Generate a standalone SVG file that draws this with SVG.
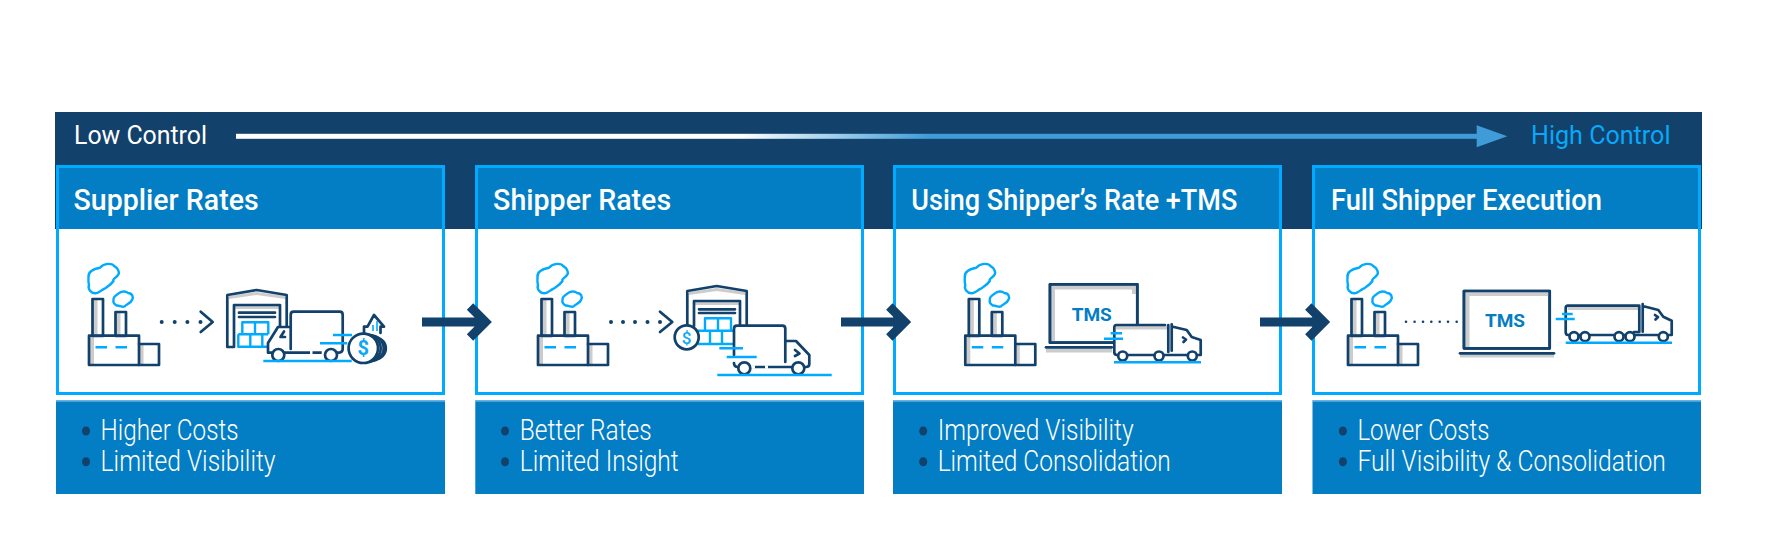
<svg xmlns="http://www.w3.org/2000/svg" xmlns:xlink="http://www.w3.org/1999/xlink" width="1783" height="539" viewBox="0 0 1783 539">
<style>
text{font-family:Roboto,"Liberation Sans",sans-serif}
.top{font-size:26px;fill:#fff}
.hi{fill:#0aa8f8}
.hd{font-size:30px;font-weight:500;fill:#fff}
.bl{font-size:29px;font-weight:300;fill:#fff}
.tms{font-size:19px;font-weight:700;fill:#037dc4;text-anchor:middle}
.dollar{font-size:20px;font-weight:700;fill:#0aa8f8;text-anchor:middle}
.panel{fill:#fff;stroke:#00aaff;stroke-width:3}
.head{fill:#037dc4}
.box{fill:#037dc4;stroke:none}
.boxtop{stroke:#5db2e3;stroke-width:1.5}
.dot{fill:#12416b}
.n{fill:none;stroke:#12416b;stroke-width:2.7;stroke-linejoin:round;stroke-linecap:round}
.nw{fill:#fff;stroke:#12416b;stroke-width:2.7;stroke-linejoin:round;stroke-linecap:round}
.c{fill:none;stroke:#00aaff;stroke-width:2.4;stroke-linejoin:round}
.g{fill:#ccc;stroke:none}
.arrow{fill:none;stroke:#12416b;stroke-width:9}
</style>
<defs>
<linearGradient id="fade" gradientUnits="userSpaceOnUse" x1="740" y1="0" x2="930" y2="0">
<stop offset="0" stop-color="#fff"/><stop offset="1" stop-color="#3f9cd8"/>
</linearGradient>
<g id="factory">
<path class="c" d="M88.5 277C88 272 93 269 100 267.7C104 263 112 262.5 115 266.7C118 268 120 273 118 275C116 278 112 279 113.5 281C111 285 107 287 105 288.3C101 290 99 293.5 95.5 293.3C91 293.5 87.5 289 89 285C88 282 88.5 279 88.5 277Z"/>
<path class="c" d="M113.5 300C113 297 116 295 118.5 293.5C121 291 126 291 128 293C132 293 134 297 132 300C131 303 127 304 124.5 306.5C122 307.5 119 305 116.5 305.5C114 304 113 302 113.5 300Z"/>
<rect class="g" x="93" y="299" width="4.5" height="36"/>
<rect class="g" x="116" y="312" width="4.5" height="23"/>
<rect class="g" x="90" y="336" width="4" height="28"/>
<rect class="g" x="140" y="345" width="3.5" height="19"/>
<rect class="n" x="92.5" y="299" width="10.5" height="37"/>
<rect class="n" x="115.5" y="312" width="10.5" height="24"/>
<rect class="n" x="89" y="335.7" width="50" height="29.3"/>
<path class="n" d="M139 344H159V365H139"/>
<path class="c" d="M95.5 347.3H107M115.5 347.3H127"/>
</g>
</defs>

<g id="band">
<rect x="55" y="112" width="1647" height="117" fill="#12416b"/>
<text class="top" x="74" y="144.3" textLength="133" lengthAdjust="spacingAndGlyphs">Low Control</text>
<rect x="236" y="133.8" width="1241" height="5" fill="url(#fade)"/>
<path d="M1476.7 125.3L1507.3 136.3L1476.7 147.3Z" fill="#3f9cd8"/>
<text class="top hi" x="1531" y="144.3" textLength="139.5" lengthAdjust="spacingAndGlyphs">High Control</text>
</g>

<g id="panel-supplier-rates">
<rect class="panel" x="57.5" y="166.5" width="386" height="227"/>
<rect class="head" x="59" y="168" width="383" height="61"/>
<text class="hd" x="73.6" y="209.6" textLength="185" lengthAdjust="spacingAndGlyphs">Supplier Rates</text>
<use href="#factory" xlink:href="#factory"/>
<g class="dot"><circle cx="161.7" cy="322" r="2"/><circle cx="174.7" cy="322" r="2"/><circle cx="187.4" cy="322" r="2"/><circle cx="200.5" cy="322" r="2"/></g>
<path class="n" d="M200.7 311.7L212.7 322L200.7 332"/>
<path class="g" d="M229 296L256.7 292L285.5 296V299L256.7 295L229 299Z"/>
<rect class="g" x="235" y="306" width="44" height="3"/>
<path class="n" d="M227.3 347V295L256.7 290L286.7 295V328M227.3 347H234V305H280V328"/>
<path class="n" d="M239 312.7H275M239 317H275" stroke-width="2"/>
<path class="c" d="M242.3 334.3V322.3H268.3V334.3M255 322.3V334.3M238.3 334.3H268M238.3 334.3V346.7H268M250.3 334.3V346.7M262.3 334.3V346.7"/>
<rect x="290.7" y="311.7" width="52" height="38" rx="3" fill="#fff"/>
<path class="g" d="M294 313H341.5V349H337.5V317H294Z"/>
<path class="nw" d="M290.7 349V314.7Q290.7 311.7 293.7 311.7H339.7Q342.7 311.7 342.7 314.7V349Q342.7 352.7 338 352.7H268V343L278 327H290.7"/>
<path class="n" d="M284 331.5L280.5 337H285"/>
<path d="M310 352.7H312.5M321.7 352.7H325" stroke="#fff" stroke-width="3.4"/>
<circle class="nw" cx="278.3" cy="355" r="6"/><circle class="nw" cx="331" cy="355" r="6"/>
<path class="c" d="M263.3 361H351.7M333 335H352M320 343.3H347.3"/>
<path class="n" d="M364 333V326.7H367.5L374 315L384 326.7H380.5V333"/>
<path d="M373 331V325M377 331V321" stroke="#00aaff" stroke-width="1.6" fill="none"/>
<circle class="nw" cx="375" cy="348.3" r="10.8"/><circle class="nw" cx="371" cy="348.3" r="12.7"/><circle class="nw" cx="367" cy="348.3" r="13.7"/><circle class="nw" cx="363.3" cy="348.3" r="14.7"/>
<text class="dollar" x="363.3" y="355">$</text>
</g>

<g id="panel-shipper-rates">
<rect class="panel" x="476.5" y="166.5" width="386" height="227"/>
<rect class="head" x="478" y="168" width="383" height="61"/>
<text class="hd" x="493.1" y="209.6" textLength="178" lengthAdjust="spacingAndGlyphs">Shipper Rates</text>
<use href="#factory" xlink:href="#factory" x="449"/>
<g class="dot"><circle cx="611" cy="322" r="2"/><circle cx="623" cy="322" r="2"/><circle cx="635" cy="322" r="2"/><circle cx="647.5" cy="322" r="2"/><circle cx="660" cy="322" r="2"/></g>
<path class="n" d="M660 311.7L672.3 322L660 332"/>
<path class="g" d="M689 292L716.7 288L745.5 292V295L716.7 291L689 295Z"/>
<rect class="g" x="695" y="302" width="44" height="3"/>
<path class="n" d="M687.3 328V291L716.7 286L746.7 291V326M694 326V301H740V326"/>
<path class="n" d="M699 309.3H735M699 313H735" stroke-width="2"/>
<path class="c" d="M705 330.7V318.3H731V330.7M718 318.3V330.7M698 330.7H735M698 344H735M710 330.7V344M722 330.7V344M735 330.7V344"/>
<circle class="nw" cx="686.7" cy="337.3" r="12"/>
<text class="dollar" x="686.7" y="343.5" style="font-size:17px;font-weight:500">$</text>
<rect x="734" y="325.7" width="51.3" height="41.6" rx="3" fill="#fff"/>
<path class="g" d="M737 327H784V330.5H738.5V366H735V327Z"/>
<path class="nw" d="M734 355V328.7Q734 325.7 737 325.7H782.3Q785.3 325.7 785.3 328.7V341H796L809.3 355V364Q809.3 367 806 367H738Q734 367 734 363"/>
<path class="n" d="M795 350L799.5 353.5L795 356"/>
<path d="M785.3 341V362" class="n"/>
<path d="M751 367H755M765 367H768" stroke="#fff" stroke-width="3.4"/>
<circle class="nw" cx="744.3" cy="368.3" r="6"/><circle class="nw" cx="798.3" cy="368.3" r="6"/>
<path class="c" d="M717.3 375H831.7M719.3 348.3H743M726.7 357H756.7"/>
</g>

<g id="panel-using-shippers-rate-tms">
<rect class="panel" x="894.5" y="166.5" width="386" height="227"/>
<rect class="head" x="896" y="168" width="383" height="61"/>
<text class="hd" x="911.3" y="209.6" textLength="326" lengthAdjust="spacingAndGlyphs">Using Shipper’s Rate +TMS</text>
<use href="#factory" xlink:href="#factory" x="876.3"/>
<rect class="nw" x="1050" y="284.3" width="87.3" height="58.4"/>
<path class="g" d="M1051.5 285.5H1136V294H1132V289.5H1055V341.5H1051.5Z"/>
<path class="n" d="M1050 284.3H1137.3V342.7H1050Z"/>
<text class="tms" x="1091.7" y="320.7">TMS</text>
<rect class="g" x="1046" y="348.5" width="66" height="4"/>
<path class="n" d="M1046 347.3H1111.7"/>
<rect x="1113" y="324" width="56.5" height="32" fill="#fff"/>
<path class="g" d="M1116 326H1167V329.5H1116Z"/>
<path class="n" d="M1165 325H1116.5Q1114.3 325 1114.3 327.5V352Q1114.3 355 1117 355H1200.7V340L1191.7 337L1186.7 330L1171.7 326.5M1168.3 325V352M1171.7 324.3V350.7"/>
<path class="n" d="M1183 337.5L1186 339.5L1183.5 342"/>
<circle class="nw" cx="1122.7" cy="356" r="4.5"/><circle class="nw" cx="1159" cy="356" r="4.5"/><circle class="nw" cx="1192.3" cy="356" r="4.5"/>
<path class="c" d="M1114 362.3H1201M1110.7 333.3H1122M1104 338.7H1123"/>
</g>

<g id="panel-full-shipper-execution">
<rect class="panel" x="1313.5" y="166.5" width="386" height="227"/>
<rect class="head" x="1315" y="168" width="383" height="61"/>
<text class="hd" x="1330.9" y="209.6" textLength="271" lengthAdjust="spacingAndGlyphs">Full Shipper Execution</text>
<use href="#factory" xlink:href="#factory" x="1259"/>
<g class="dot"><circle cx="1406" cy="321.7" r="1.3"/><circle cx="1414.6" cy="321.7" r="1.3"/><circle cx="1423" cy="321.7" r="1.3"/><circle cx="1431.3" cy="321.7" r="1.3"/><circle cx="1439.7" cy="321.7" r="1.3"/><circle cx="1448" cy="321.7" r="1.3"/><circle cx="1456.7" cy="321.7" r="1.3"/></g>
<rect class="nw" x="1464" y="291" width="85.7" height="57.3"/>
<path class="g" d="M1465.5 292.5H1548.5V296H1469.5V347H1465.5Z"/>
<path class="n" d="M1464 291H1549.7V348.3H1464Z"/>
<text class="tms" x="1505" y="326.7">TMS</text>
<rect class="g" x="1460" y="354" width="94" height="3.5"/>
<path class="n" d="M1460 353.3H1554"/>
<path class="g" d="M1568 307H1638V310H1568Z"/>
<path class="n" d="M1638 305.7H1568Q1565.7 305.7 1565.7 308V332Q1565.7 335 1568 335H1671.7V320.7L1663.3 316.7L1658.3 310L1642.7 306M1639.3 305.7V332H1634M1642.7 304V331.7"/>
<path class="n" d="M1655 315L1658 317L1655.5 319.5"/>
<circle class="nw" cx="1574" cy="336.7" r="4.5"/><circle class="nw" cx="1585" cy="336.7" r="4.5"/><circle class="nw" cx="1619" cy="336.7" r="4.5"/><circle class="nw" cx="1630" cy="336.7" r="4.5"/><circle class="nw" cx="1663.3" cy="336.7" r="4.5"/>
<path class="c" d="M1565.7 342.7H1672M1562 314H1572.7M1555.7 319H1574.7"/>
</g>

<g id="connectors">
<path class="arrow" d="M422 322H485M470 306.5L485.5 322L470 337.5"/>
<path class="arrow" d="M841 322H904M889.3 306.5L904.8 322L889.3 337.5"/>
<path class="arrow" d="M1260 322H1323M1308.3 306.5L1323.8 322L1308.3 337.5"/>
</g>

<g id="list-supplier-rates">
<rect class="box" x="56" y="400.5" width="389" height="93.5"/><path class="boxtop" d="M56 401H445"/>
<ellipse class="dot" cx="86" cy="431" rx="4" ry="4.5"/><ellipse class="dot" cx="86" cy="461.7" rx="4" ry="4.5"/>
<text class="bl" x="100.6" y="440" textLength="138" lengthAdjust="spacingAndGlyphs">Higher Costs</text>
<text class="bl" x="100.6" y="471" textLength="175" lengthAdjust="spacingAndGlyphs">Limited Visibility</text>
</g>
<g id="list-shipper-rates">
<rect class="box" x="475.3" y="400.5" width="388.7" height="93.5"/><path class="boxtop" d="M475.3 401H864"/>
<ellipse class="dot" cx="505" cy="431" rx="4" ry="4.5"/><ellipse class="dot" cx="505" cy="461.7" rx="4" ry="4.5"/>
<text class="bl" x="519.7" y="440" textLength="132" lengthAdjust="spacingAndGlyphs">Better Rates</text>
<text class="bl" x="519.7" y="471" textLength="159" lengthAdjust="spacingAndGlyphs">Limited Insight</text>
</g>
<g id="list-using-shippers-rate-tms">
<rect class="box" x="893" y="400.5" width="389" height="93.5"/><path class="boxtop" d="M893 401H1282"/>
<ellipse class="dot" cx="923.2" cy="431" rx="4" ry="4.5"/><ellipse class="dot" cx="923.2" cy="461.7" rx="4" ry="4.5"/>
<text class="bl" x="937.7" y="440" textLength="196" lengthAdjust="spacingAndGlyphs">Improved Visibility</text>
<text class="bl" x="937.7" y="471" textLength="233" lengthAdjust="spacingAndGlyphs">Limited Consolidation</text>
</g>
<g id="list-full-shipper-execution">
<rect class="box" x="1312.5" y="400.5" width="388.5" height="93.5"/><path class="boxtop" d="M1312.5 401H1701"/>
<ellipse class="dot" cx="1342.9" cy="431" rx="4" ry="4.5"/><ellipse class="dot" cx="1342.9" cy="461.7" rx="4" ry="4.5"/>
<text class="bl" x="1357.4" y="440" textLength="132" lengthAdjust="spacingAndGlyphs">Lower Costs</text>
<text class="bl" x="1357.4" y="471" textLength="308.4" lengthAdjust="spacingAndGlyphs">Full Visibility &amp; Consolidation</text>
</g>
</svg>
